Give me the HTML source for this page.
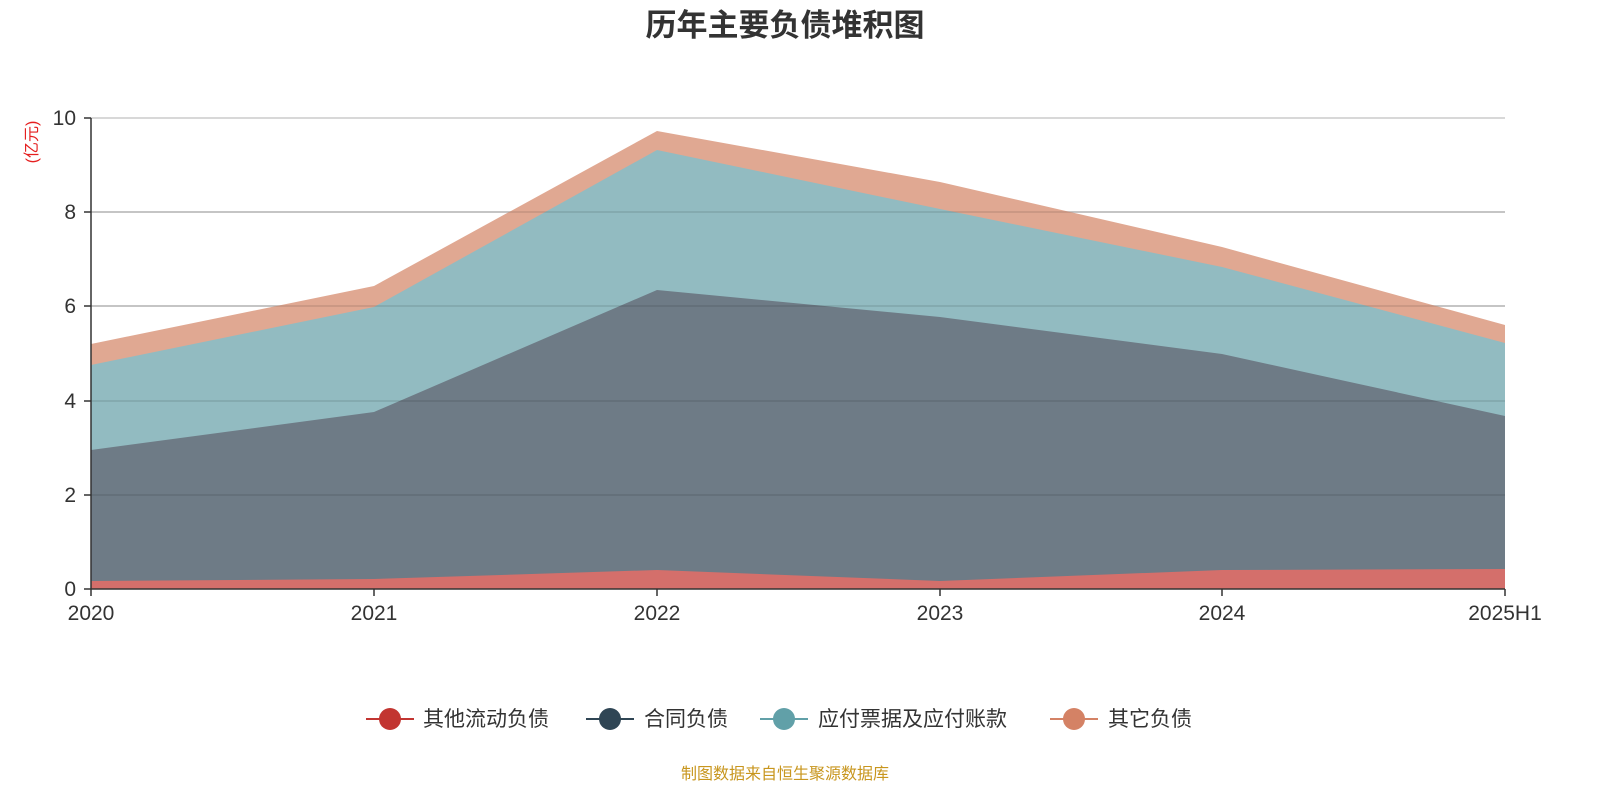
<!DOCTYPE html>
<html><head><meta charset="utf-8"><style>
html,body{margin:0;padding:0;background:#fff;}
svg{display:block;font-family:"Liberation Sans","Noto Sans CJK SC",sans-serif;}
</style></head><body>
<svg width="1600" height="800" viewBox="0 0 1600 800" xmlns="http://www.w3.org/2000/svg">
<rect width="1600" height="800" fill="#fff"/>
<text x="785" y="36" text-anchor="middle" font-size="31" font-weight="bold" fill="#333">历年主要负债堆积图</text>
<text transform="translate(37,142) rotate(-90)" text-anchor="middle" font-size="16" fill="#e52020">(亿元)</text>
<g stroke="#ccc" stroke-width="1.5">
<line x1="91" y1="118" x2="1505" y2="118"/>
<line x1="91" y1="212" x2="1505" y2="212"/>
<line x1="91" y1="306" x2="1505" y2="306"/>
</g>
<!-- salmon -->
<polygon fill="#e0a892" points="91,344 374,286 657,131 940,182 1222,247 1505,325 1505,589 91,589"/>
<!-- teal -->
<polygon fill="#92bbc1" points="91,365 374,307 657,150 940,209 1222,267 1505,343 1505,589 91,589"/>
<!-- dark -->
<polygon fill="#6e7b86" points="91,450 374,412 657,290 940,317 1222,354 1505,416 1505,589 91,589"/>
<!-- red -->
<polygon fill="#d46f6b" points="91,581 374,579 657,570 940,581 1222,570 1505,569 1505,589 91,589"/>
<g stroke="rgba(0,0,0,0.12)" stroke-width="1.5">
<line x1="91" y1="306" x2="1505" y2="306"/>
<line x1="91" y1="212" x2="1505" y2="212"/>
<line x1="91" y1="401" x2="1505" y2="401"/>
<line x1="91" y1="495" x2="1505" y2="495"/>
</g>
<g stroke="#333" stroke-width="1.5">
<line x1="91" y1="118" x2="91" y2="589"/>
<line x1="91" y1="589" x2="1505" y2="589"/>
<line x1="84" y1="118" x2="91" y2="118"/>
<line x1="84" y1="212" x2="91" y2="212"/>
<line x1="84" y1="306" x2="91" y2="306"/>
<line x1="84" y1="401" x2="91" y2="401"/>
<line x1="84" y1="495" x2="91" y2="495"/>
<line x1="84" y1="589" x2="91" y2="589"/>
<line x1="91" y1="589" x2="91" y2="596"/>
<line x1="374" y1="589" x2="374" y2="596"/>
<line x1="657" y1="589" x2="657" y2="596"/>
<line x1="940" y1="589" x2="940" y2="596"/>
<line x1="1222" y1="589" x2="1222" y2="596"/>
<line x1="1505" y1="589" x2="1505" y2="596"/>
</g>
<g font-size="21" fill="#333" text-anchor="end">
<text x="76" y="125">10</text><text x="76" y="219">8</text><text x="76" y="313">6</text>
<text x="76" y="408">4</text><text x="76" y="502">2</text><text x="76" y="596">0</text>
</g>
<g font-size="21" fill="#333" text-anchor="middle">
<text x="91" y="620">2020</text><text x="374" y="620">2021</text><text x="657" y="620">2022</text>
<text x="940" y="620">2023</text><text x="1222" y="620">2024</text><text x="1505" y="620">2025H1</text>
</g>
<g font-size="21" fill="#333">
<line x1="366" y1="719" x2="414" y2="719" stroke="#c23531" stroke-width="2"/><circle cx="390" cy="719" r="11" fill="#c23531"/>
<text x="423" y="726">其他流动负债</text>
<line x1="586" y1="719" x2="634" y2="719" stroke="#2f4554" stroke-width="2"/><circle cx="610" cy="719" r="11" fill="#2f4554"/>
<text x="644" y="726">合同负债</text>
<line x1="760" y1="719" x2="808" y2="719" stroke="#61a0a8" stroke-width="2"/><circle cx="784" cy="719" r="11" fill="#61a0a8"/>
<text x="818" y="726">应付票据及应付账款</text>
<line x1="1050" y1="719" x2="1098" y2="719" stroke="#d48265" stroke-width="2"/><circle cx="1074" cy="719" r="11" fill="#d48265"/>
<text x="1108" y="726">其它负债</text>
</g>
<text x="785" y="779" text-anchor="middle" font-size="16" fill="#c8961e">制图数据来自恒生聚源数据库</text>
</svg>
</body></html>
